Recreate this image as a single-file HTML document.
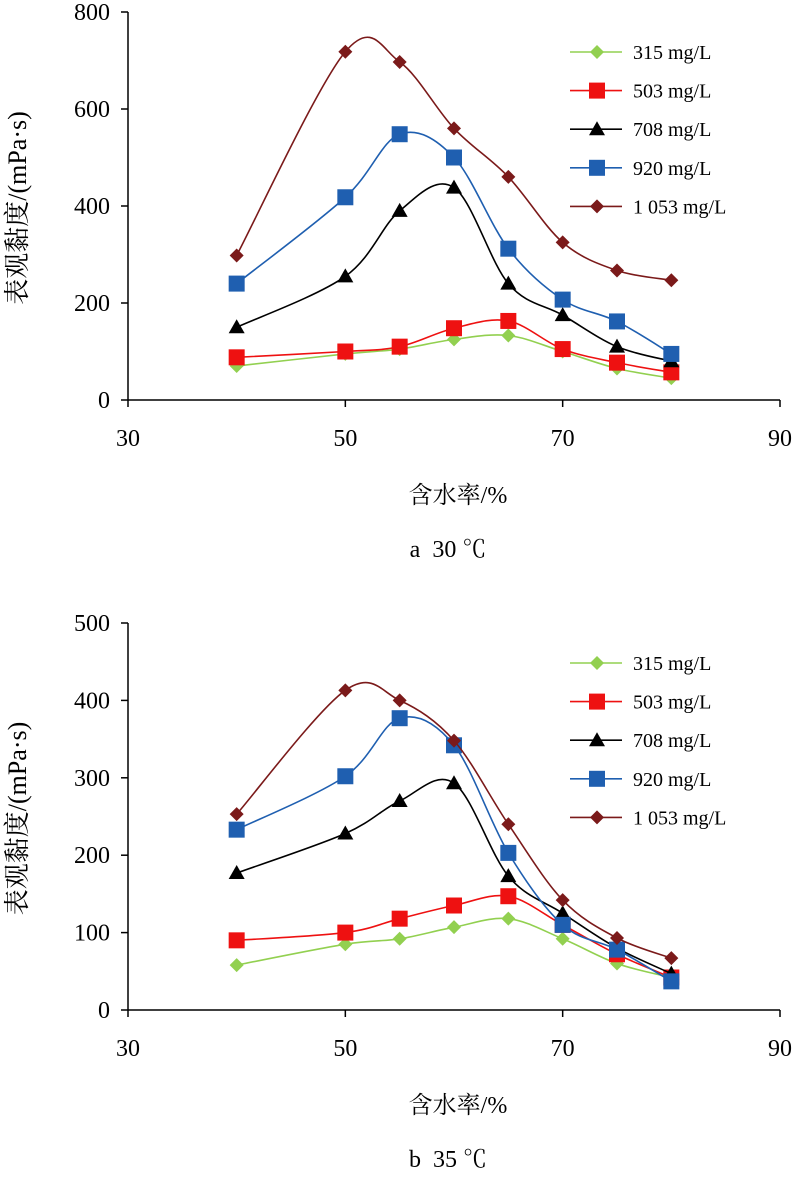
<!DOCTYPE html>
<html><head><meta charset="utf-8"><style>
body{margin:0;background:#fff}
svg text{font-family:"Liberation Serif","Noto Serif CJK SC",serif;fill:#000}
</style></head><body>
<svg id="s" width="796" height="1177"></svg>
<script>
const xCats=[40,50,55,60,65,70,75,80];
const seriesNames=["315 mg/L","503 mg/L","708 mg/L","920 mg/L","1 053 mg/L"];
const colors=["#92d050","#ee1111","#000000","#1f5fb0","#7b1a1a"];
const markers=["diamond","square","triangle","square","diamond"];
const a315=[70,95,105,125,133,100,65,45];
const a503=[88,100,110,148,163,105,77,57];
const a708=[150,255,390,438,240,175,110,80];
const a920=[240,418,548,500,312,207,162,95];
const a1053=[298,718,697,560,460,325,267,247];
const b315=[58,85,92,107,118,92,60,42];
const b503=[90,100,118,135,147,110,72,42];
const b708=[177,228,270,293,173,125,80,47];
const b920=[233,302,377,342,203,110,78,37];
const b1053=[253,413,400,348,240,142,93,67];
const xTicks=[30,50,70,90];
const aYTicks=[0,200,400,600,800];
const bYTicks=[0,100,200,300,400,500];
const NS="http://www.w3.org/2000/svg";
const svg=document.getElementById('s');
function el(t,a,p){const e=document.createElementNS(NS,t);for(const k in a)e.setAttribute(k,a[k]);(p||svg).appendChild(e);return e;}
function path(pts){let d=`M${pts[0][0]},${pts[0][1]}`;for(let i=0;i<pts.length-1;i++){const p0=pts[i-1]||pts[i],p1=pts[i],p2=pts[i+1],p3=pts[i+2]||p2;const t=0.5/3;d+=` C${p1[0]+(p2[0]-p0[0])*t},${p1[1]+(p2[1]-p0[1])*t} ${p2[0]-(p3[0]-p1[0])*t},${p2[1]-(p3[1]-p1[1])*t} ${p2[0]},${p2[1]}`;}return d;}
function marker(g,type,x,y,c){
 if(type==="square")el('rect',{x:x-8,y:y-8,width:16,height:16,fill:c},g);
 else if(type==="diamond")el('polygon',{points:`${x},${y-7} ${x+7},${y} ${x},${y+7} ${x-7},${y}`,fill:c},g);
 else el('polygon',{points:`${x},${y-8} ${x+8},${y+6} ${x-8},${y+6}`,fill:c},g);
}
function chart(id,top,bottom,ymax,yTicks,data,legTop,caption){
 const g=el('g',{});
 
 
 const X=v=>128+(v-30)/60*652, Y=v=>bottom-v/ymax*(bottom-top);
 el('line',{x1:128,y1:top,x2:128,y2:bottom,stroke:'#000','stroke-width':1.5},g);
 el('line',{x1:128,y1:bottom,x2:780,y2:bottom,stroke:'#000','stroke-width':1.5},g);
 yTicks.forEach(v=>{el('line',{x1:121,y1:Y(v),x2:128,y2:Y(v),stroke:'#000','stroke-width':1.5},g);
  const t=el('text',{x:110,y:Y(v)+8,'text-anchor':'end','font-size':24},g);t.textContent=v;
  });
 xTicks.forEach(v=>{el('line',{x1:X(v),y1:bottom,x2:X(v),y2:bottom+7,stroke:'#000','stroke-width':1.5},g);
  const t=el('text',{x:X(v),y:bottom+46,'text-anchor':'middle','font-size':24},g);t.textContent=v;
  });
 data.forEach((s,i)=>{const pts=xCats.map((x,j)=>[X(x),Y(s[j])]);
  const p=el('path',{d:path(pts),fill:'none',stroke:colors[i],'stroke-width':1.6},g);
  
  pts.forEach(q=>marker(g,markers[i],q[0],q[1],colors[i]));
  const ly=legTop+i*38.6;
  el('line',{x1:570,y1:ly,x2:622,y2:ly,stroke:colors[i],'stroke-width':1.6},g);
  marker(g,markers[i],597,ly,colors[i]);
  const t=el('text',{x:633,y:ly+7,'font-size':20},g);t.textContent=seriesNames[i];
  });
 const yt=el('text',{x:0,y:0,'font-size':26,'text-anchor':'middle',transform:`translate(26,${(top+bottom)/2+2}) rotate(-90)`},g);
 yt.textContent='表观黏度/(mPa·s)';
 const xt=el('text',{x:458,y:bottom+103,'font-size':24,'text-anchor':'middle'},g);
 xt.textContent='含水率/%';
 const ct=el('text',{x:448,y:bottom+157,'font-size':24,'text-anchor':'middle'},g);
 ct.textContent=caption;
}
chart('chart-30c',12,400,800,aYTicks,[a315,a503,a708,a920,a1053],52,'a\u00a0\u00a030\u00a0℃');
chart('chart-35c',623,1010,500,bYTicks,[b315,b503,b708,b920,b1053],663,'b\u00a0\u00a035\u00a0℃');
</script></body></html>
